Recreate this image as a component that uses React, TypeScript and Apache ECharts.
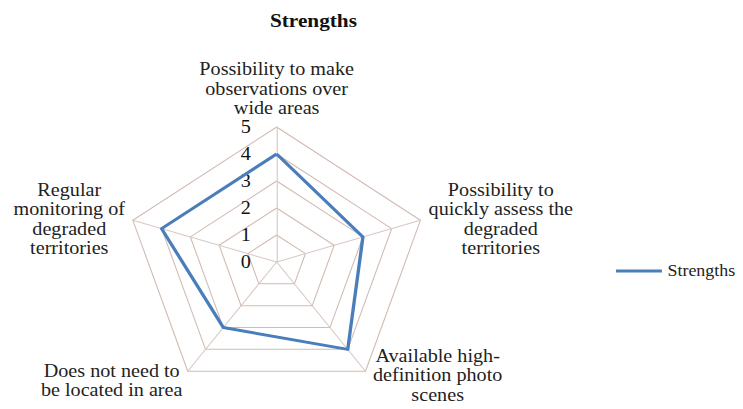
import React, { useEffect, useRef } from "react";
import * as echarts from "echarts";

const titleText = "Strengths";
const seriesName = "Strengths";
// Indicators in ECharts' drawing order (top, then counter-clockwise)
const categories = [
  "Possibility to make\nobservations over\nwide areas",
  "Regular\nmonitoring of\ndegraded\nterritories",
  "Does not need to\nbe located in area",
  "Available high-\ndefinition photo\nscenes",
  "Possibility to\nquickly assess the\ndegraded\nterritories",
];
const values = [4, 4, 3, 4, 3];
const axisMax = 5;
const axisSteps = 5;

// label box widths and spacer height put above a label (style only)
const nameWidths = [140, 104, 130, 123, 134];
const nameSpacer = [0, 0, 10, 0, 0];
const FONT = "Liberation Serif";
const STRETCH = 1.12; // the reference picture is stretched horizontally
const W = 663;
const H = 409;

export default function App() {
  const ref = useRef<HTMLDivElement>(null);
  useEffect(() => {
    if (!ref.current) return;
    const chart = echarts.init(ref.current, null, { renderer: "svg" });
    const rich: Record<string, any> = {};
    nameWidths.forEach((w, i) => {
      rich["n" + i] = {
        width: w,
        align: "center",
        fontFamily: FONT,
        fontSize: 18,
        lineHeight: 19.5,
        color: "#222",
      };
      rich["s" + i] = { fontSize: 1, lineHeight: nameSpacer[i], width: 1 };
    });
    chart.setOption({
      animation: false,
      backgroundColor: "#fff",
      textStyle: { fontFamily: FONT },
      title: {
        text: titleText,
        left: 236,
        top: 6,
        textStyle: { fontFamily: FONT, fontSize: 19, fontWeight: "bold", color: "#111" },
      },
      legend: {
        data: [seriesName],
        left: 545,
        top: 258,
        icon: "rect",
        itemWidth: 41,
        itemHeight: 3,
        textStyle: { fontFamily: FONT, fontSize: 16, color: "#222" },
      },
      radar: {
        center: [247, 262],
        radius: 135,
        startAngle: 90,
        splitNumber: axisSteps,
        shape: "polygon",
        indicator: categories.map((c, i) => ({
          name: c,
          max: axisMax,
          min: 0,
          axisLabel:
            i === 0
              ? {
                  show: true,
                  showMinLabel: true,
                  showMaxLabel: true,
                  color: "#111",
                  fontFamily: FONT,
                  fontSize: 18,
                  margin: 23,
                }
              : { show: false },
        })),
        axisName: {
          formatter: (name: string) => {
            const i = categories.indexOf(name);
            const lines = name.split("\n").map((l) => `{n${i}|${l}}`);
            return (nameSpacer[i] ? `{s${i}| }\n` : "") + lines.join("\n");
          },
          rich,
          fontFamily: FONT,
          fontSize: 18,
          lineHeight: 19.5,
          color: "#222",
        },
        nameGap: 5,
        splitLine: { lineStyle: { color: "#d2bcb2", width: 1 } },
        axisLine: { lineStyle: { color: "#d9c8c2", width: 1 } },
        splitArea: { show: false },
        axisTick: { show: false },
      },
      series: [
        {
          type: "radar",
          name: seriesName,
          symbol: "none",
          lineStyle: { color: "#4a7ebb", width: 3 },
          itemStyle: { color: "#4a7ebb" },
          data: [{ name: seriesName, value: values }],
        },
      ],
    });
    return () => chart.dispose();
  }, []);
  return (
    <div style={{ width: 743, height: H, margin: -8, overflow: "hidden" }}>
      <div
        ref={ref}
        style={{
          width: W,
          height: H,
          transform: `scaleX(${STRETCH})`,
          transformOrigin: "0 0",
        }}
      />
    </div>
  );
}
